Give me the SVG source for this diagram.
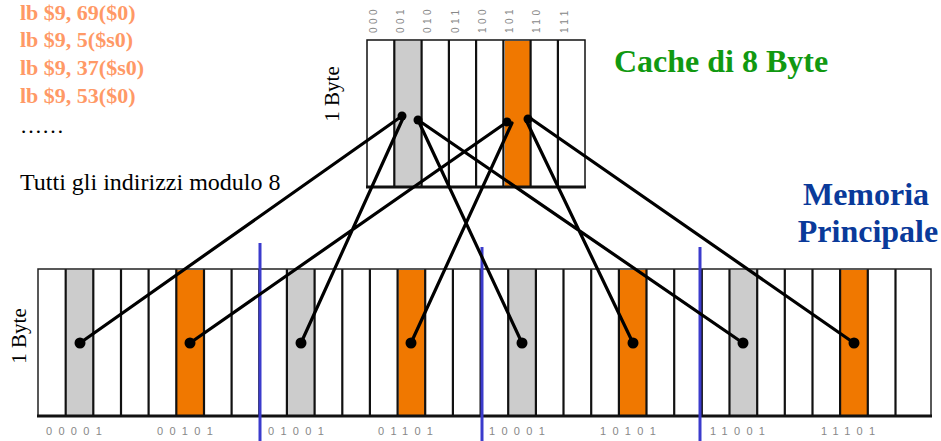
<svg xmlns="http://www.w3.org/2000/svg" width="941" height="441" viewBox="0 0 941 441">
<style>
.code{font-family:"Liberation Serif",serif;font-weight:bold;font-size:22px;fill:#ff9966}
.serif{font-family:"Liberation Serif",serif;fill:#000}
.lab{font-family:"Liberation Sans",sans-serif;font-size:10px;fill:#888;letter-spacing:3.5px}
.mlab{font-family:"Liberation Sans",sans-serif;font-size:11px;fill:#888;letter-spacing:6.3px}
.sep{stroke:#111;stroke-width:2.2;fill:none}
.gray{fill:#cccccc}
.orange{fill:#f07800}
.conn{stroke:#000;stroke-width:3.2;fill:none;stroke-linecap:round}
.blue{stroke:#3b3bcc;stroke-width:3}
.title{font-family:"Liberation Serif",serif;font-weight:bold;font-size:32px}
</style>
<rect width="941" height="441" fill="#fff"/>

<g id="code">
<text class="code" x="20" y="20">lb $9, 69($0)</text>
<text class="code" x="20" y="47">lb $9, 5($s0)</text>
<text class="code" x="20" y="75">lb $9, 37($s0)</text>
<text class="code" x="20" y="103">lb $9, 53($0)</text>
<text class="serif" x="20" y="133" font-size="22">……</text>
</g>
<g id="note"><text class="serif" x="20" y="190" font-size="24">Tutti gli indirizzi modulo 8</text></g>

<g id="cache">
<rect class="gray" x="395" y="41" width="26" height="146"/>
<rect class="orange" x="505" y="41" width="26" height="146"/>
<path class="sep" d="M394.3 40V187 M421.6 40V187 M448.9 40V187 M476.1 40V187 M503.4 40V187 M530.6 40V187 M557.9 40V187"/>
<rect x="367" y="40" width="218" height="147" fill="none" stroke="#111" stroke-width="1.5"/>
<line x1="366" y1="187" x2="586" y2="187" stroke="#111" stroke-width="3"/>
<g class="lab">
<text transform="translate(377,33) rotate(-90)">000</text>
<text transform="translate(404,33) rotate(-90)">001</text>
<text transform="translate(431,33) rotate(-90)">010</text>
<text transform="translate(459,33) rotate(-90)">011</text>
<text transform="translate(486,33) rotate(-90)">100</text>
<text transform="translate(513,33) rotate(-90)">101</text>
<text transform="translate(540,33) rotate(-90)">110</text>
<text transform="translate(568,33) rotate(-90)">111</text>
</g>
<text class="serif" font-size="21" text-anchor="middle" transform="translate(339,94) rotate(-90)">1 Byte</text>
</g>
<g id="cache-title"><text class="title" x="614" y="72" fill="#119911">Cache di 8 Byte</text></g>
<g id="mem-title">
<text class="title" x="866" y="205" text-anchor="middle" fill="#0a3a9a">Memoria</text>
<text class="title" x="868" y="242" text-anchor="middle" fill="#0a3a9a">Principale</text>
</g>

<g id="memory">
<rect class="gray" x="66.5" y="270" width="27" height="145"/>
<rect class="orange" x="177" y="270" width="27" height="145"/>
<rect class="gray" x="287.7" y="270" width="27" height="145"/>
<rect class="orange" x="398.4" y="270" width="27" height="145"/>
<rect class="gray" x="509" y="270" width="27" height="145"/>
<rect class="orange" x="619.7" y="270" width="27" height="145"/>
<rect class="gray" x="730.3" y="270" width="27" height="145"/>
<rect class="orange" x="841" y="270" width="27" height="145"/>
<path class="sep" d="M65.7 269V416 M93.3 269V416 M121 269V416 M148.6 269V416 M176.3 269V416 M204 269V416 M231.6 269V416 M259.3 269V416 M286.9 269V416 M314.6 269V416 M342.3 269V416 M369.9 269V416 M397.6 269V416 M425.2 269V416 M452.9 269V416 M480.6 269V416 M508.2 269V416 M535.9 269V416 M563.5 269V416 M591.2 269V416 M618.9 269V416 M646.5 269V416 M674.2 269V416 M701.8 269V416 M729.5 269V416 M757.2 269V416 M784.8 269V416 M812.5 269V416 M840.1 269V416 M867.8 269V416 M895.5 269V416"/>
<rect x="38" y="269" width="893" height="147" fill="none" stroke="#222" stroke-width="1.5"/>
<line x1="37" y1="416" x2="932" y2="416" stroke="#111" stroke-width="3"/>
<g class="mlab">
<text x="46" y="435">00001</text>
<text x="157" y="435">00101</text>
<text x="268" y="435">01001</text>
<text x="378" y="435">01101</text>
<text x="489" y="435">10001</text>
<text x="600" y="435">10101</text>
<text x="710" y="435">11001</text>
<text x="821" y="435">11101</text>
</g>
<text class="serif" font-size="21" text-anchor="middle" transform="translate(26,336) rotate(-90)">1 Byte</text>
</g>

<g id="bounds">
<line class="blue" x1="260" y1="243" x2="260" y2="441"/>
<line class="blue" x1="482" y1="247" x2="482" y2="441"/>
<line class="blue" x1="700" y1="247" x2="700" y2="441"/>
</g>

<g id="connectors">
<path class="conn" d="M80 343L402 116 M190 343L507 122 M301 343L404 116 M411 343L512 123 M522 343L418 120 M633 343L526 120 M743 343L418 120 M854 343L530 118"/>
<g fill="#000">
<circle cx="80" cy="343" r="5.5"/><circle cx="190" cy="343" r="5.5"/><circle cx="301" cy="343" r="5.5"/><circle cx="411" cy="343" r="5.5"/>
<circle cx="522" cy="343" r="5.5"/><circle cx="633" cy="343" r="5.5"/><circle cx="743" cy="343" r="5.5"/><circle cx="854" cy="343" r="5.5"/>
<circle cx="402" cy="116" r="4.5"/><circle cx="418" cy="120" r="4.5"/><circle cx="507" cy="122" r="4.5"/><circle cx="528" cy="119" r="4.5"/>
</g>
</g>
</svg>
